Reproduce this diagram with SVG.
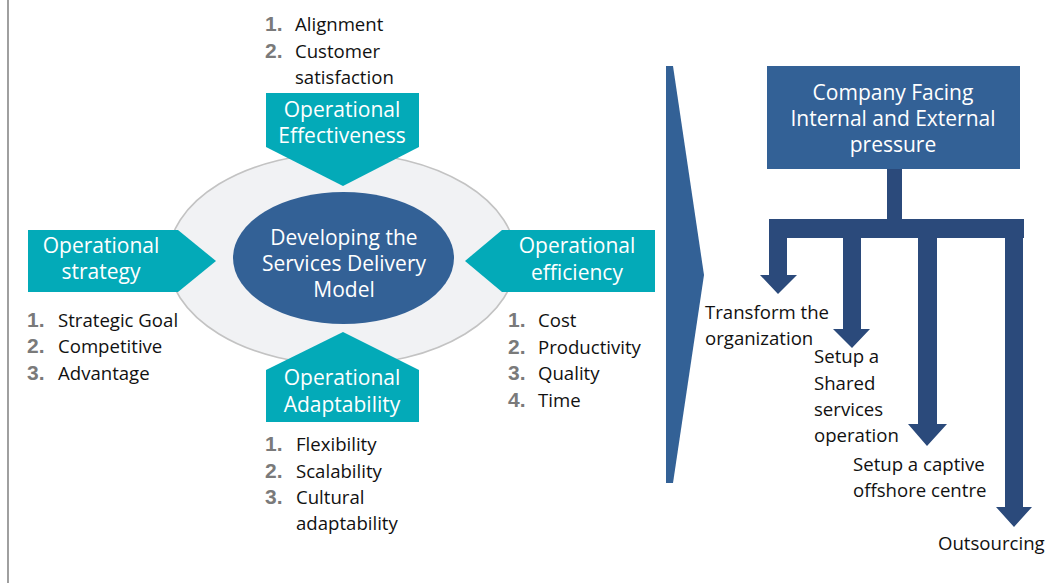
<svg xmlns="http://www.w3.org/2000/svg" width="1058" height="583" viewBox="0 0 1058 583">
  <style>
    .lbl { font-family: "Open Sans", "Liberation Sans", sans-serif; font-size: 21px; fill: #ffffff; text-anchor: middle; }
    .txt { font-family: "Open Sans", "Liberation Sans", sans-serif; font-size: 18.6px; fill: #111111; }
    .num { font-family: "Liberation Sans", Arial, sans-serif; font-size: 21px; font-weight: bold; fill: #7a7a7a; }
    .teal { fill: #03aab8; }
    .navy { fill: #336196; }
    .link { fill: #2b4a7b; }
  </style>

  <!-- page frame edge -->
  <line x1="8" y1="0" x2="8" y2="583" stroke="#888888" stroke-width="1.6"/>

  <!-- outer ring -->
  <g id="ring">
    <ellipse cx="342" cy="259" rx="174" ry="106" fill="#f1f2f4" stroke="#c3c3c3" stroke-width="1.6"/>
  </g>

  <!-- central model -->
  <g id="core">
    <ellipse class="navy" cx="343.5" cy="258" rx="110.5" ry="66"/>
    <text class="lbl" x="344" y="245">Developing the</text>
    <text class="lbl" x="344" y="271">Services Delivery</text>
    <text class="lbl" x="344" y="297">Model</text>
  </g>

  <!-- top: effectiveness -->
  <g id="effectiveness">
    <polygon class="teal" points="266,93 419,93 419,147 343,186 266,147"/>
    <text class="lbl" x="342" y="117">Operational</text>
    <text class="lbl" x="342" y="143">Effectiveness</text>
    <text class="num" x="265" y="31">1.</text>
    <text class="txt" x="295" y="31">Alignment</text>
    <text class="num" x="265" y="58">2.</text>
    <text class="txt" x="295" y="58">Customer</text>
    <text class="txt" x="295" y="84">satisfaction</text>
  </g>

  <!-- left: strategy -->
  <g id="strategy">
    <polygon class="teal" points="28,230 178,230 216,261 178,292 28,292"/>
    <text class="lbl" x="101" y="253">Operational</text>
    <text class="lbl" x="101" y="279">strategy</text>
    <text class="num" x="27" y="327">1.</text>
    <text class="txt" x="58" y="327">Strategic Goal</text>
    <text class="num" x="27" y="353">2.</text>
    <text class="txt" x="58" y="353">Competitive</text>
    <text class="num" x="27" y="380">3.</text>
    <text class="txt" x="58" y="380">Advantage</text>
  </g>

  <!-- right: efficiency -->
  <g id="efficiency">
    <polygon class="teal" points="655,230 502,230 465,261 502,292 655,292"/>
    <text class="lbl" x="577" y="253">Operational</text>
    <text class="lbl" x="577" y="280">efficiency</text>
    <text class="num" x="508" y="327">1.</text>
    <text class="txt" x="538" y="327">Cost</text>
    <text class="num" x="508" y="354">2.</text>
    <text class="txt" x="538" y="354">Productivity</text>
    <text class="num" x="508" y="380">3.</text>
    <text class="txt" x="538" y="380">Quality</text>
    <text class="num" x="508" y="407">4.</text>
    <text class="txt" x="538" y="407">Time</text>
  </g>

  <!-- bottom: adaptability -->
  <g id="adaptability">
    <polygon class="teal" points="266,422 419,422 419,370 343,332 266,370"/>
    <text class="lbl" x="342" y="385">Operational</text>
    <text class="lbl" x="342" y="412">Adaptability</text>
    <text class="num" x="265" y="451">1.</text>
    <text class="txt" x="296" y="451">Flexibility</text>
    <text class="num" x="265" y="478">2.</text>
    <text class="txt" x="296" y="478">Scalability</text>
    <text class="num" x="265" y="504">3.</text>
    <text class="txt" x="296" y="504">Cultural</text>
    <text class="txt" x="296" y="530">adaptability</text>
  </g>

  <!-- divider chevron -->
  <g id="chevron">
    <polygon class="navy" points="666,66 673,66 704,275 673,483 666,483"/>
  </g>

  <!-- pressure box -->
  <g id="pressure">
    <rect class="navy" x="767" y="66" width="253" height="103"/>
    <text class="lbl" x="893" y="100">Company Facing</text>
    <text class="lbl" x="893" y="126">Internal and External</text>
    <text class="lbl" x="893" y="152">pressure</text>
  </g>

  <!-- branching connectors -->
  <g id="connectors">
    <rect class="link" x="887" y="169" width="15" height="51"/>
    <rect class="link" x="769" y="219" width="255" height="19"/>
    <polygon class="link" points="769,238 787,238 787,275 797,275 778,294 760,275 769,275"/>
    <polygon class="link" points="843,238 861,238 861,329 870,329 852,348 833,329 843,329"/>
    <polygon class="link" points="918,238 937,238 937,424 947,424 927,446 908,424 918,424"/>
    <polygon class="link" points="1005,238 1023,238 1023,507 1032,507 1014,527 996,507 1005,507"/>
  </g>

  <!-- outcome labels -->
  <g id="transform">
    <text class="txt" x="705" y="319">Transform the</text>
    <text class="txt" x="705" y="345">organization</text>
  </g>
  <g id="shared">
    <text class="txt" x="814" y="363">Setup a</text>
    <text class="txt" x="814" y="390">Shared</text>
    <text class="txt" x="814" y="416">services</text>
    <text class="txt" x="814" y="442">operation</text>
  </g>
  <g id="captive">
    <text class="txt" x="853" y="471">Setup a captive</text>
    <text class="txt" x="853" y="497">offshore centre</text>
  </g>
  <g id="outsourcing">
    <text class="txt" x="938" y="550">Outsourcing</text>
  </g>
</svg>
